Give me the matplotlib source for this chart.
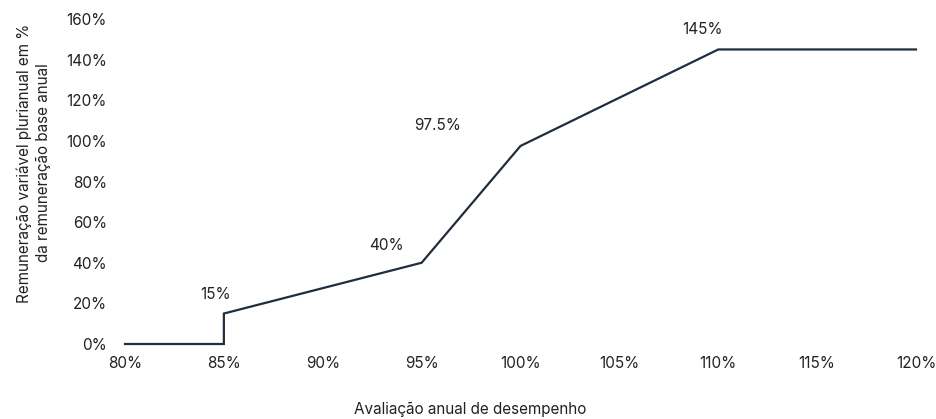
import matplotlib
matplotlib.use("Agg")
import matplotlib.pyplot as plt
from matplotlib.ticker import FuncFormatter

x_vals = [80, 85, 85, 95, 100, 110, 120]
y_vals = [0, 0, 15, 40, 97.5, 145, 145]
label_x = [85, 95, 100, 110]
label_y = [15, 40, 97.5, 145]
label_text = ["15%", "40%", "97.5%", "145%"]
x_ticks = [80, 85, 90, 95, 100, 105, 110, 115, 120]
y_ticks = [0, 20, 40, 60, 80, 100, 120, 140, 160]

plt.rcParams['font.family'] = ['Inter', 'DejaVu Sans']
color_line = "#1f2d3d"
text_color = "#222222"
fs = 11

fig = plt.figure(figsize=(9.36, 4.19), dpi=100)
ax = fig.add_axes([125/936, 1-344/419, 791/936, 325/419])
ax.plot(x_vals, y_vals, color=color_line, lw=1.6, solid_joinstyle='miter', clip_on=False)
ax.set_xlim(80, 120)
ax.set_ylim(0, 160)
ax.set_xticks(x_ticks)
ax.set_yticks(y_ticks)
fmt = FuncFormatter(lambda v, p: f"{v:g}%")
ax.xaxis.set_major_formatter(fmt)
ax.yaxis.set_major_formatter(fmt)
for s in ax.spines.values():
    s.set_visible(False)
ax.tick_params(axis='both', length=0, labelsize=fs, colors=text_color)
ax.tick_params(axis='y', pad=13)
ax.tick_params(axis='x', pad=9)

offsets = [(-8, 19), (-35, 17), (-83, 20), (-16, 20)]
for xv, yv, t, (dx, dy) in zip(label_x, label_y, label_text, offsets):
    ax.annotate(t, (xv, yv), xytext=(dx*0.72, dy*0.72), textcoords='offset points',
                ha='center', va='center', fontsize=fs, color=text_color)

ax.set_xlabel("Avaliação anual de desempenho", fontsize=fs, color=text_color)
ax.xaxis.set_label_coords((470-125)/791, -(402-344)/325)
ax.set_ylabel("Remuneração variável plurianual em %\nda remuneração base anual", fontsize=fs,
              color=text_color, linespacing=1.35)
ax.yaxis.set_label_coords(-(125-51)/791, (344-163)/325)
fig.savefig("out.png", dpi=100)
